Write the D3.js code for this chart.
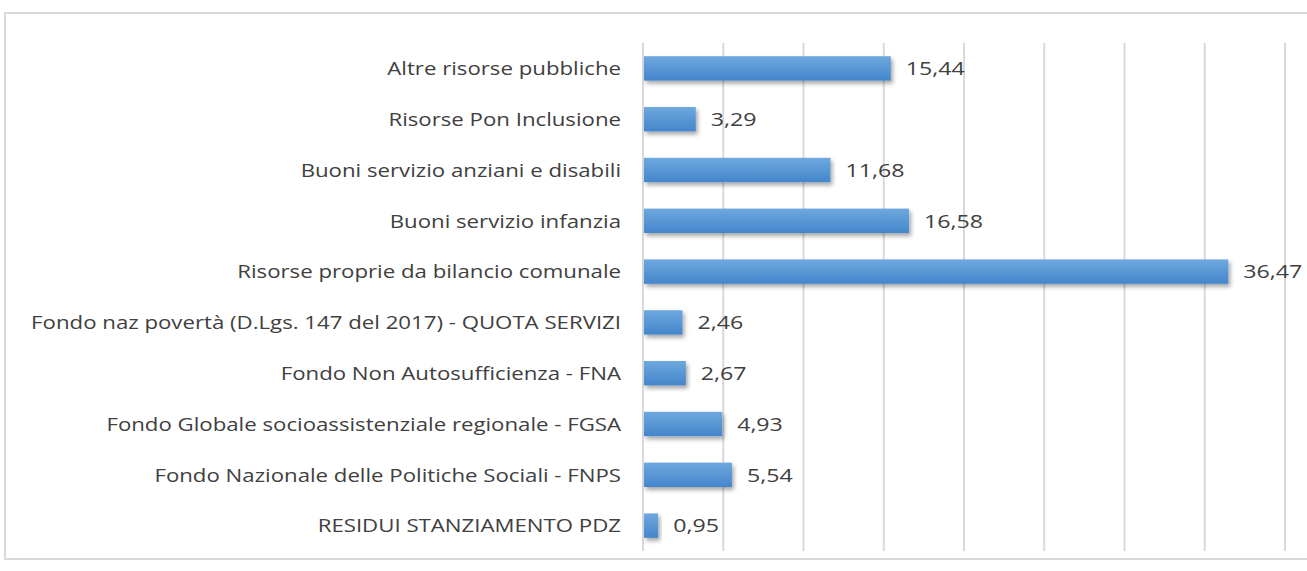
<!DOCTYPE html>
<html><head><meta charset="utf-8">
<script src="https://cdn.jsdelivr.net/npm/d3@7"></script>
<style>body{margin:0;background:#fff;} svg{display:block;}</style>
</head><body>
<svg id="c" width="1307" height="571"></svg>
<script>
const categories = [
  "Altre risorse pubbliche ",
  "Risorse Pon Inclusione",
  "Buoni servizio anziani e disabili",
  "Buoni servizio infanzia",
  "Risorse proprie da bilancio comunale",
  "Fondo naz povertà (D.Lgs. 147 del 2017) - QUOTA SERVIZI",
  "Fondo Non Autosufficienza - FNA",
  "Fondo Globale socioassistenziale regionale - FGSA",
  "Fondo Nazionale delle Politiche Sociali - FNPS",
  "RESIDUI STANZIAMENTO PDZ"
];
const values = [15.44, 3.29, 11.68, 16.58, 36.47, 2.46, 2.67, 4.93, 5.54, 0.95];
const gridTicks = [0, 5, 10, 15, 20, 25, 30, 35, 40];

const svg = d3.select("#c");
const defs = svg.append("defs");
const grad = defs.append("linearGradient").attr("id","bg").attr("x1",0).attr("y1",0).attr("x2",0).attr("y2",1);
grad.append("stop").attr("offset","0%").attr("stop-color","#6ea8de");
grad.append("stop").attr("offset","100%").attr("stop-color","#4486cc");
const f = defs.append("filter").attr("id","sh").attr("x","-10%").attr("y","-30%").attr("width","130%").attr("height","180%");
f.append("feDropShadow").attr("dx",2).attr("dy",3).attr("stdDeviation",2).attr("flood-color","#000").attr("flood-opacity",0.35);

// frame
svg.append("rect").attr("x",5).attr("y",13).attr("width",1310).attr("height",546)
  .attr("fill","none").attr("stroke","#d9d9d9").attr("stroke-width",2);

const x = d3.scaleLinear().domain([0,40]).range([643,1285]);
const y = d3.scaleBand().domain(categories).range([43,551]).paddingInner(0.52).paddingOuter(0.26);

svg.append("g").selectAll("line").data(gridTicks).join("line")
  .attr("x1",d=>x(d)).attr("x2",d=>x(d)).attr("y1",43).attr("y2",551)
  .attr("stroke","#d9d9d9").attr("stroke-width",2);

const rows = categories.map((c,i)=>({c, v: values[i]}));

svg.append("g").selectAll("rect").data(rows).join("rect")
  .attr("x",x(0)+1).attr("y",d=>y(d.c)).attr("width",d=>x(d.v)-x(0)-1).attr("height",y.bandwidth())
  .attr("fill","url(#bg)").attr("filter","url(#sh)");

const fmt = d => d.toFixed(2).replace(".",",");
svg.append("g").selectAll("text").data(rows).join("text")
  .attr("transform",d=>`translate(${x(d.v)+15},${y(d.c)+y.bandwidth()/2}) scale(1.22,1)`)
  .attr("dy","0.36em")
  .attr("font-family","Open Sans, sans-serif").attr("font-size",19).attr("fill","#404040")
  .text(d=>fmt(d.v));

svg.append("g").selectAll("text").data(rows).join("text")
  .attr("transform",d=>`translate(621,${y(d.c)+y.bandwidth()/2}) scale(1.17,1)`)
  .attr("dy","0.36em").attr("text-anchor","end")
  .attr("font-family","Open Sans, sans-serif").attr("font-size",19).attr("fill","#404040")
  .text(d=>d.c);
</script>
</body></html>
